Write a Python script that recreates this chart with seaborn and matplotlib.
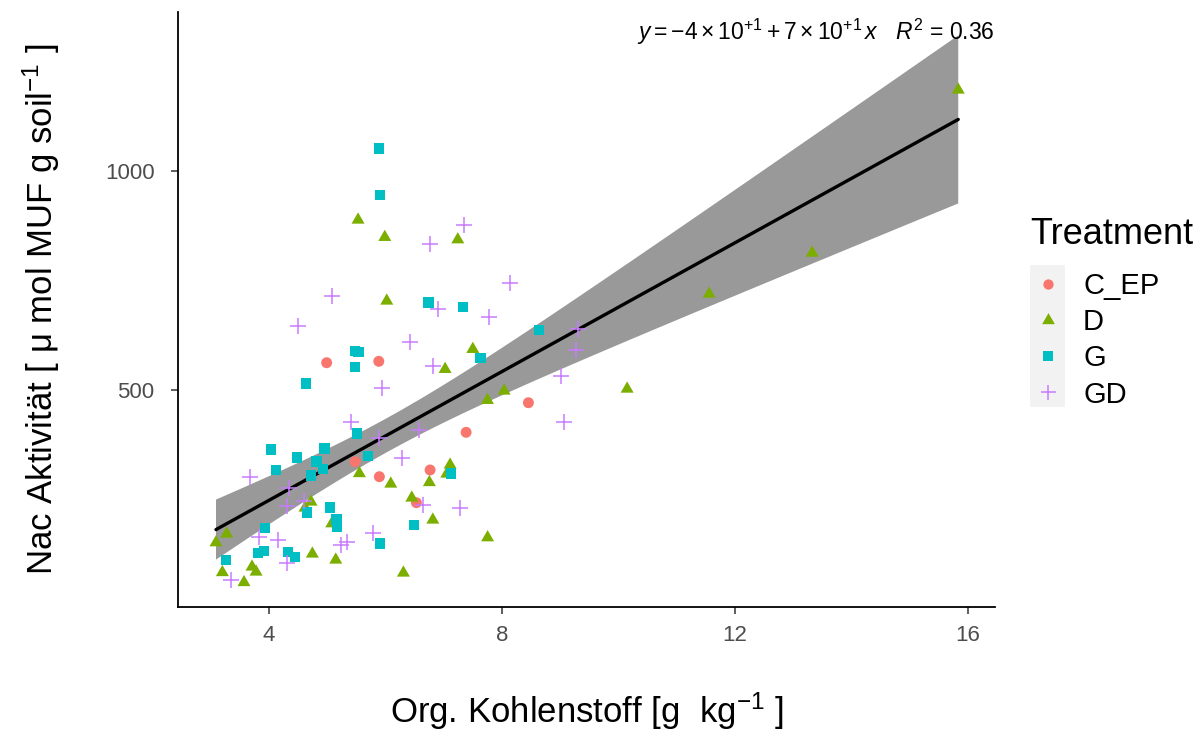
import math
import numpy as np
import pandas as pd
import matplotlib
matplotlib.use("Agg")
import matplotlib.pyplot as plt
from matplotlib.patches import Rectangle
from matplotlib.lines import Line2D
from matplotlib.path import Path
import seaborn as sns

# Organic carbon [g/kg] and NAC activity per treatment
cep_c = [4.99, 5.885, 8.455, 7.385, 5.478, 5.895, 6.766, 6.531]
cep_nac = [562.3, 565.5, 471.0, 403.4, 336.3, 302.1, 317.4, 242.7]

d_c = [15.838, 13.33, 11.56, 10.151, 7.5, 7.024, 8.038, 7.751, 5.529, 5.988,
       7.242, 6.022, 5.552, 6.091, 6.754, 7.11, 7.053, 6.452, 6.813, 7.754,
       6.308, 5.077, 4.722, 4.619, 3.089, 3.273, 4.744, 5.146, 3.198, 3.708,
       3.777, 3.570]
d_nac = [1185.2, 813.0, 719.4, 502.5, 593.2, 547.5, 498.0, 476.7, 888.4, 848.9,
         843.4, 703.5, 309.6, 285.7, 289.1, 329.0, 308.5, 253.7, 203.5, 163.1,
         82.5, 195.0, 244.6, 230.9, 151.7, 171.5, 125.9, 112.2, 83.6, 96.2,
         84.8, 60.8]

g_c = [5.89, 5.902, 6.737, 7.328, 8.639, 5.478, 5.534, 5.473, 7.634, 4.636,
       5.507, 4.034, 4.481, 4.95, 4.813, 4.928, 4.115, 4.722, 5.704, 7.122,
       5.048, 4.653, 5.156, 5.163, 6.491, 3.931, 5.907, 3.811, 3.918, 4.326,
       4.447, 3.261]
g_nac = [1051.8, 945.9, 700.2, 690.2, 637.0, 589.7, 587.4, 553.2, 572.4, 514.8,
         401.1, 364.6, 345.9, 366.9, 337.2, 319.2, 317.4, 304.8, 349.3, 309.8,
         232.2, 220.3, 204.4, 187.2, 191.8, 184.3, 150.0, 127.2, 132.4, 130.2,
         119.4, 111.9]

gd_c = [7.351, 6.771, 8.141, 5.077, 4.49, 6.904, 7.78, 6.423, 9.304, 9.27,
        9.012, 9.072, 6.823, 5.947, 5.409, 5.89, 6.581, 6.285, 3.674, 4.349,
        4.304, 4.601, 6.651, 7.282, 3.833, 4.16, 5.792, 5.34, 5.229, 4.304,
        3.347]
gd_nac = [876.7, 832.6, 745.0, 715.3, 646.1, 684.2, 667.3, 608.9, 639.3, 591.3,
          532.6, 427.6, 555.5, 505.7, 427.6, 389.3, 408.7, 345.4, 300.7, 276.3,
          236.3, 247.7, 237.5, 229.9, 164.4, 157.6, 172.8, 153.0, 146.1, 104.4,
          66.2]

treatments = ["C_EP", "D", "G", "GD"]
x_ticks = [4, 8, 12, 16]
y_ticks = [500, 1000]

# fitted-model annotation (coefficients rounded to one significant digit)
eq_label = r"$y = -4\times10^{+1} + 7\times10^{+1}\,x$"
r2_label = r"$R^2$ = 0.36"

palette = dict(zip(treatments, ["#F8766D", "#7CAE00", "#00BFC4", "#C77CFF"]))

# equilateral triangle centred on its centroid
tri = Path([(0, 1), (-0.866, -0.5), (0.866, -0.5), (0, 1)],
           [Path.MOVETO, Path.LINETO, Path.LINETO, Path.CLOSEPOLY])
markers = {"C_EP": "o", "D": tri, "G": "s", "GD": "+"}
msizes = {"C_EP": 62, "D": 117, "G": 56, "GD": 120}
leg_ms = {"C_EP": 7.4, "D": 10.6, "G": 7.2, "GD": 10.8}

df = pd.concat([
    pd.DataFrame({"corg": cep_c, "nac": cep_nac, "Treatment": "C_EP"}),
    pd.DataFrame({"corg": d_c, "nac": d_nac, "Treatment": "D"}),
    pd.DataFrame({"corg": g_c, "nac": g_nac, "Treatment": "G"}),
    pd.DataFrame({"corg": gd_c, "nac": gd_nac, "Treatment": "GD"}),
], ignore_index=True)

sns.set_theme(style="white")
plt.rcParams["font.family"] = ["Liberation Sans", "DejaVu Sans"]
plt.rcParams["text.color"] = "black"
plt.rcParams["axes.labelcolor"] = "black"
plt.rcParams["mathtext.fontset"] = "custom"
plt.rcParams["mathtext.rm"] = "Liberation Sans"
plt.rcParams["mathtext.it"] = "Liberation Sans:italic"
plt.rcParams["mathtext.bf"] = "Liberation Sans:bold"

fig = plt.figure(figsize=(12.01, 7.33), dpi=100)
ax = fig.add_axes([0.1482, 0.1719, 0.8285 - 0.1482, 0.9836 - 0.1719])

# least-squares line
x = df["corg"].to_numpy()
y = df["nac"].to_numpy()
n = len(x)
slope, intercept = np.polyfit(x, y, 1)
resid = y - (intercept + slope * x)
sigma = math.sqrt((resid ** 2).sum() / (n - 2))
sxx = ((x - x.mean()) ** 2).sum()


def t_quantile(p, dof):
    grid = np.linspace(0, 12, 240001)
    logc = math.lgamma((dof + 1) / 2) - math.lgamma(dof / 2) - 0.5 * math.log(dof * math.pi)
    pdf = np.exp(logc) * (1 + grid ** 2 / dof) ** (-(dof + 1) / 2)
    cdf = 0.5 + np.concatenate([[0], np.cumsum((pdf[1:] + pdf[:-1]) / 2 * np.diff(grid))])
    return float(np.interp(p, cdf, grid))


# 95% confidence band of the mean
xg = np.linspace(x.min(), x.max(), 100)
yg = intercept + slope * xg
half = t_quantile(0.975, n - 2) * sigma * np.sqrt(1 / n + (xg - x.mean()) ** 2 / sxx)
ax.fill_between(xg, yg - half, yg + half, facecolor="#999999", edgecolor="none",
                zorder=2)
sns.regplot(data=df, x="corg", y="nac", scatter=False, ci=None, color="black",
            truncate=True, line_kws=dict(lw=2.4, zorder=3), ax=ax)

handles = []
for t in treatments:
    sub = df[df["Treatment"] == t]
    if t == "GD":
        sns.scatterplot(data=sub, x="corg", y="nac", marker="+", color=palette[t],
                        s=msizes[t], linewidth=1.1, ax=ax, zorder=4, legend=False)
        handles.append(Line2D([], [], ls="none", marker="+", color=palette[t],
                              markersize=leg_ms[t], markeredgewidth=1.1))
    else:
        sns.scatterplot(data=sub, x="corg", y="nac", marker=markers[t], color=palette[t],
                        s=msizes[t], edgecolor="none", linewidth=0, ax=ax, zorder=4,
                        legend=False)
        handles.append(Line2D([], [], ls="none", marker=markers[t], color=palette[t],
                              markersize=leg_ms[t], markeredgewidth=0))

ax.text(0.999, 0.992, eq_label + "   " + r2_label, transform=ax.transAxes,
        ha="right", va="top", fontsize=16.5, color="black")

ax.set_xlim(2.436, 16.47)
ax.set_ylim(4.6, 1363)
ax.set_xticks(x_ticks)
ax.set_yticks(y_ticks)
ax.set_xticklabels([str(v) for v in x_ticks])
ax.set_yticklabels([str(v) for v in y_ticks])
ax.tick_params(axis="both", which="major", direction="out", length=5, width=1.1,
               color="#333333", labelcolor="#4D4D4D", labelsize=16,
               bottom=True, left=True)
ax.tick_params(axis="x", pad=8)
ax.tick_params(axis="y", pad=12)

for side in ["top", "right"]:
    ax.spines[side].set_visible(False)
for side in ["left", "bottom"]:
    ax.spines[side].set_color("black")
    ax.spines[side].set_linewidth(1.3)

ax.set_xlabel(r"Org. Kohlenstoff [g  kg$^{-1}$ ]", fontsize=25, labelpad=32,
              color="black")
ax.set_ylabel(r"Nac Aktivität [ μ mol MUF g soil$^{-1}$ ]", fontsize=25, labelpad=31,
              color="black")

# legend with grey key background
fig.patches.append(Rectangle((1030 / 1201, 1 - 407 / 733), 35 / 1201, 142 / 733,
                             transform=fig.transFigure, facecolor="#F2F2F2",
                             edgecolor="none", zorder=-1))
leg = fig.legend(handles, treatments, title="Treatment", loc="upper left",
                 bbox_to_anchor=(1030 / 1201, 1 - 217 / 733), frameon=False,
                 fontsize=21, title_fontsize=26, handlelength=1.2,
                 handletextpad=0.62, labelspacing=0.28, borderpad=0,
                 borderaxespad=0, labelcolor="black")
leg.get_title().set_color("black")
leg._legend_box.align = "left"
leg._legend_box.sep = 14.5

fig.savefig("out.png", dpi=100, facecolor="white")
